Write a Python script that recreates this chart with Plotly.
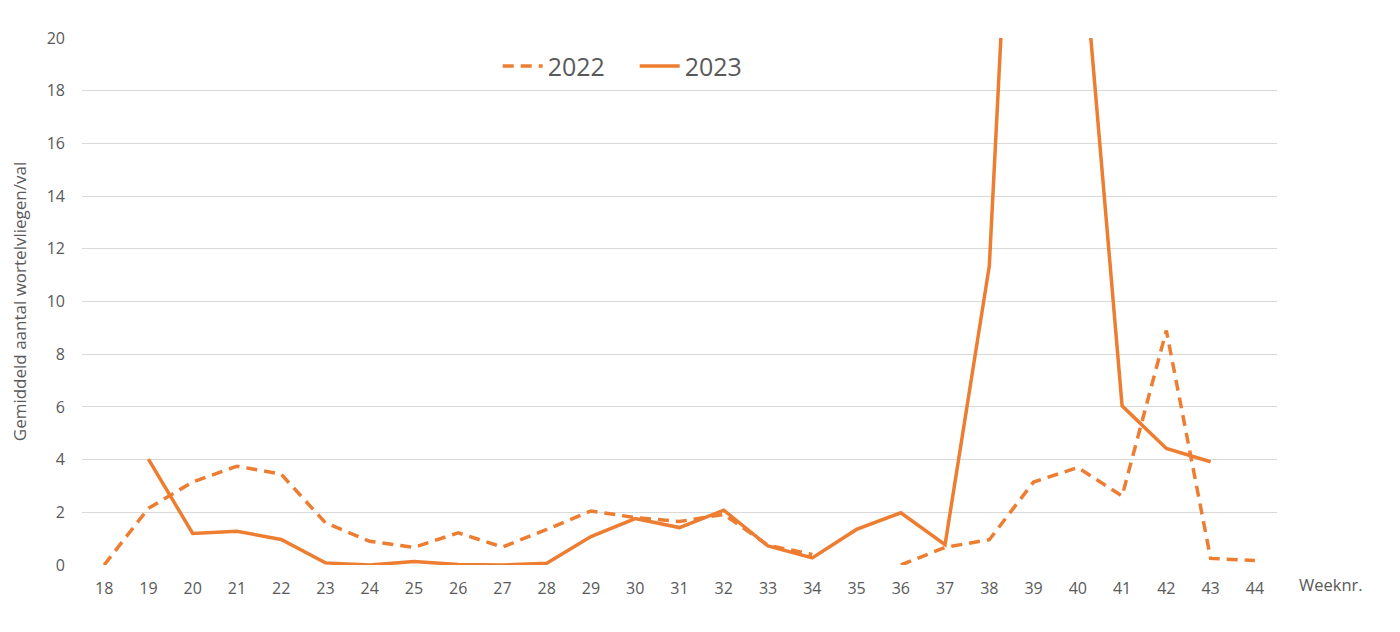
import plotly.graph_objects as go

weeks = [str(w) for w in range(18, 45)]
y2022 = [0, 2.15, 3.15, 3.75, 3.45, 1.6, 0.9, 0.67, 1.22, 0.68, 1.35, 2.05, 1.8, 1.65, 1.92,
         0.75, 0.4, None, 0, 0.67, 0.96, 3.15, 3.7, 2.62, 8.9, 0.25, 0.17]
y2023 = [None, 4.02, 1.2, 1.28, 0.97, 0.08, 0.0, 0.13, 0.02, 0.0, 0.07, 1.08, 1.76, 1.42, 2.08,
         0.72, 0.27, 1.35, 1.98, 0.77, 11.35, 44.5, 25.8, 6.04, 4.42, 3.92, None]
y_ticks = list(range(0, 21, 2))

orange = "#ED7D31"
font_family = "Open Sans, Segoe UI, Arial, sans-serif"
grey = "#595959"

fig = go.Figure()
fig.add_trace(go.Scatter(x=weeks, y=y2022, name="2022", mode="lines",
                         line=dict(color=orange, width=3.5, dash="11px,7px"),
                         connectgaps=False))
fig.add_trace(go.Scatter(x=weeks, y=y2023, name="2023", mode="lines",
                         line=dict(color=orange, width=3.5),
                         connectgaps=False))

fig.update_layout(
    width=1400, height=632,
    margin=dict(l=67, r=131, t=30, b=75),
    paper_bgcolor="white", plot_bgcolor="white",
    font=dict(family=font_family, color=grey, size=16),
    showlegend=True,
    legend=dict(orientation="h", x=0.4625, xanchor="center", y=0.99, yanchor="top",
                font=dict(size=25, color=grey), bgcolor="rgba(255,255,255,0.9)",
                itemwidth=40, tracegroupgap=0, entrywidthmode="pixels", entrywidth=82),
    xaxis=dict(type="category", range=[-0.5, 26.5], showgrid=False, zeroline=False,
               showline=False, ticks="", tickfont=dict(size=16, color=grey),
               ticklabelstandoff=12),
    yaxis=dict(range=[0, 20], tickvals=y_ticks, showgrid=True, gridcolor="#D9D9D9",
               gridwidth=1, zeroline=False, showline=False, ticks="",
               tickfont=dict(size=16, color=grey), ticklabelstandoff=16,
               title=dict(text="Gemiddeld aantal wortelvliegen/val",
                          font=dict(size=17, color=grey), standoff=15)),
    annotations=[dict(text="Weeknr.", xref="paper", yref="paper", x=1.0165, y=-0.037,
                      xanchor="left", yanchor="middle", showarrow=False,
                      font=dict(size=16.5, color=grey))],
    shapes=[dict(type="line", xref="paper", yref="paper", x0=1.0975, x1=1.0975, y0=-0.2, y1=1.035,
                 line=dict(color="#CFCFCF", width=1.5))],
)

fig.write_html("out.html")
